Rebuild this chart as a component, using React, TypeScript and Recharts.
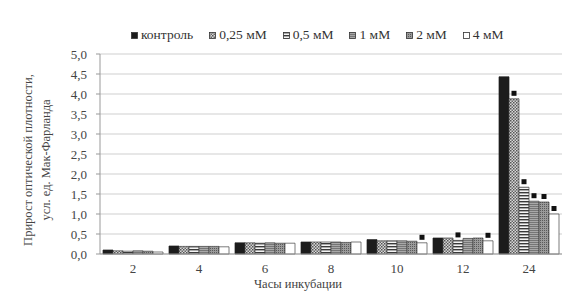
import { BarChart, Bar, XAxis, YAxis, CartesianGrid, LabelList } from 'recharts'

const hours = ['2', '4', '6', '8', '10', '12', '24']
const control = [0.1, 0.2, 0.28, 0.3, 0.36, 0.4, 4.43]
const mM025 = [0.08, 0.19, 0.28, 0.3, 0.33, 0.4, 3.88]
const mM05 = [0.07, 0.19, 0.27, 0.3, 0.33, 0.34, 1.67]
const mM1 = [0.08, 0.19, 0.28, 0.3, 0.33, 0.39, 1.32]
const mM2 = [0.07, 0.19, 0.27, 0.29, 0.32, 0.4, 1.3]
const mM4 = [0.05, 0.18, 0.27, 0.3, 0.28, 0.33, 1.0]

// significance marks (black squares above the bar)
const sig025 = [0, 0, 0, 0, 0, 0, 1]
const sig05 = [0, 0, 0, 0, 0, 1, 1]
const sig1 = [0, 0, 0, 0, 0, 0, 1]
const sig2 = [0, 0, 0, 0, 0, 0, 1]
const sig4 = [0, 0, 0, 0, 1, 1, 1]

const yTicks = [0, 0.5, 1, 1.5, 2, 2.5, 3, 3.5, 4, 4.5, 5]
const bounds = [0, 1, 2, 3, 4, 5, 6, 7]

const data = hours.map((h, i) => ({
  hour: h,
  control: control[i],
  mM025: mM025[i],
  mM05: mM05[i],
  mM1: mM1[i],
  mM2: mM2[i],
  mM4: mM4[i],
}))

const series = [
  { key: 'control', name: 'контроль', fill: '#1c1c1c', sig: null as number[] | null },
  { key: 'mM025', name: '0,25 мМ', fill: 'url(#p025)', sig: sig025 },
  { key: 'mM05', name: '0,5 мМ', fill: 'url(#p05)', sig: sig05 },
  { key: 'mM1', name: '1 мМ', fill: 'url(#p1)', sig: sig1 },
  { key: 'mM2', name: '2 мМ', fill: 'url(#p2)', sig: sig2 },
  { key: 'mM4', name: '4 мМ', fill: '#ffffff', sig: sig4 },
]

const font = "'Liberation Serif', 'Times New Roman', serif"

function Mark(sig: number[]) {
  return (props: any) => {
    const { x, y, width, index } = props
    if (!sig[index]) return null
    return <rect x={x + width / 2 - 2.5} y={y - 8} width={5} height={5} fill="#111" />
  }
}

function LegendBox() {
  return (
    <div style={{ position: 'absolute', left: 131, top: 27, display: 'flex', gap: 16, fontFamily: font, fontSize: 13.5, color: '#333', lineHeight: '16px' }}>
      {series.map((s) => (
        <div key={s.key} style={{ display: 'flex', alignItems: 'center', gap: 3 }}>
          <svg width={7} height={7}>
            <rect x={0.5} y={0.5} width={6} height={6} fill={s.fill} stroke="#333" strokeWidth={0.8} />
          </svg>
          <span>{s.name}</span>
        </div>
      ))}
    </div>
  )
}

function YLabel() {
  return (
    <text transform="rotate(-90 0 0)" fontFamily={font} fontSize={12.5} fill="#444" textAnchor="middle">
      <tspan x={-160} y={32}>Прирост оптической плотности,</tspan>
      <tspan x={-160} y={50}>усл. ед. Мак-Фарланда</tspan>
    </text>
  )
}

function XLabel() {
  return (
    <text x={298} y={288} fontFamily={font} fontSize={12.5} fill="#444" textAnchor="middle">
      Часы инкубации
    </text>
  )
}

export default function App() {
  return (
    <div style={{ position: 'absolute', left: 0, top: 0, width: 567, height: 296, background: '#fff' }}>
      <BarChart
        width={567}
        height={296}
        data={data}
        margin={{ top: 54, right: 5, bottom: 12, left: 60 }}
        barCategoryGap={3}
        barGap={0}
      >
        <defs>
          <pattern id="p025" width="3" height="3" patternUnits="userSpaceOnUse">
            <rect width="3" height="3" fill="#d8d8d8" />
            <rect width="1.5" height="1.5" fill="#555" />
            <rect x="1.5" y="1.5" width="1.5" height="1.5" fill="#666" />
          </pattern>
          <pattern id="p05" width="3" height="3" patternUnits="userSpaceOnUse">
            <rect width="3" height="3" fill="#f4f4f4" />
            <rect width="3" height="1.4" fill="#3a3a3a" />
          </pattern>
          <pattern id="p1" width="2" height="2" patternUnits="userSpaceOnUse">
            <rect width="2" height="2" fill="#a8a8a8" />
            <rect width="2" height="0.8" fill="#6a6a6a" />
          </pattern>
          <pattern id="p2" width="2" height="2" patternUnits="userSpaceOnUse">
            <rect width="2" height="2" fill="#9a9a9a" />
            <rect width="1" height="1" fill="#5a5a5a" />
          </pattern>
        </defs>
        <CartesianGrid vertical={false} stroke="#cfcfcf" />
        <XAxis
          dataKey="hour"
          tickLine={false}
          tickSize={0}
          tickMargin={10}
          axisLine={{ stroke: '#999' }}
          tick={{ fontFamily: font, fontSize: 13, fill: '#444' }}
          height={30}
          label={{ content: () => <XLabel /> }}
        />
        <XAxis
          xAxisId="b"
          type="number"
          domain={[0, 7]}
          ticks={bounds}
          tick={false}
          tickSize={4}
          axisLine={false}
          tickLine={{ stroke: '#999' }}
          height={0}
        />
        <YAxis
          domain={[0, 5]}
          ticks={yTicks}
          interval={0}
          width={40}
          tickSize={4}
          tickMargin={9}
          axisLine={{ stroke: '#999' }}
          tickLine={{ stroke: '#999' }}
          tickFormatter={(v: number) => v.toFixed(1).replace('.', ',')}
          tick={{ fontFamily: font, fontSize: 13, fill: '#444' }}
          label={{ content: () => <YLabel /> }}
        />
        {series.map((s) => (
          <Bar
            key={s.key}
            dataKey={s.key}
            name={s.name}
            fill={s.fill}
            stroke={s.key === 'control' ? '#1c1c1c' : '#444'}
            strokeWidth={0.7}
            isAnimationActive={false}
          >
            {s.sig && <LabelList dataKey={s.key} content={Mark(s.sig)} />}
          </Bar>
        ))}
      </BarChart>
      <LegendBox />
    </div>
  )
}
